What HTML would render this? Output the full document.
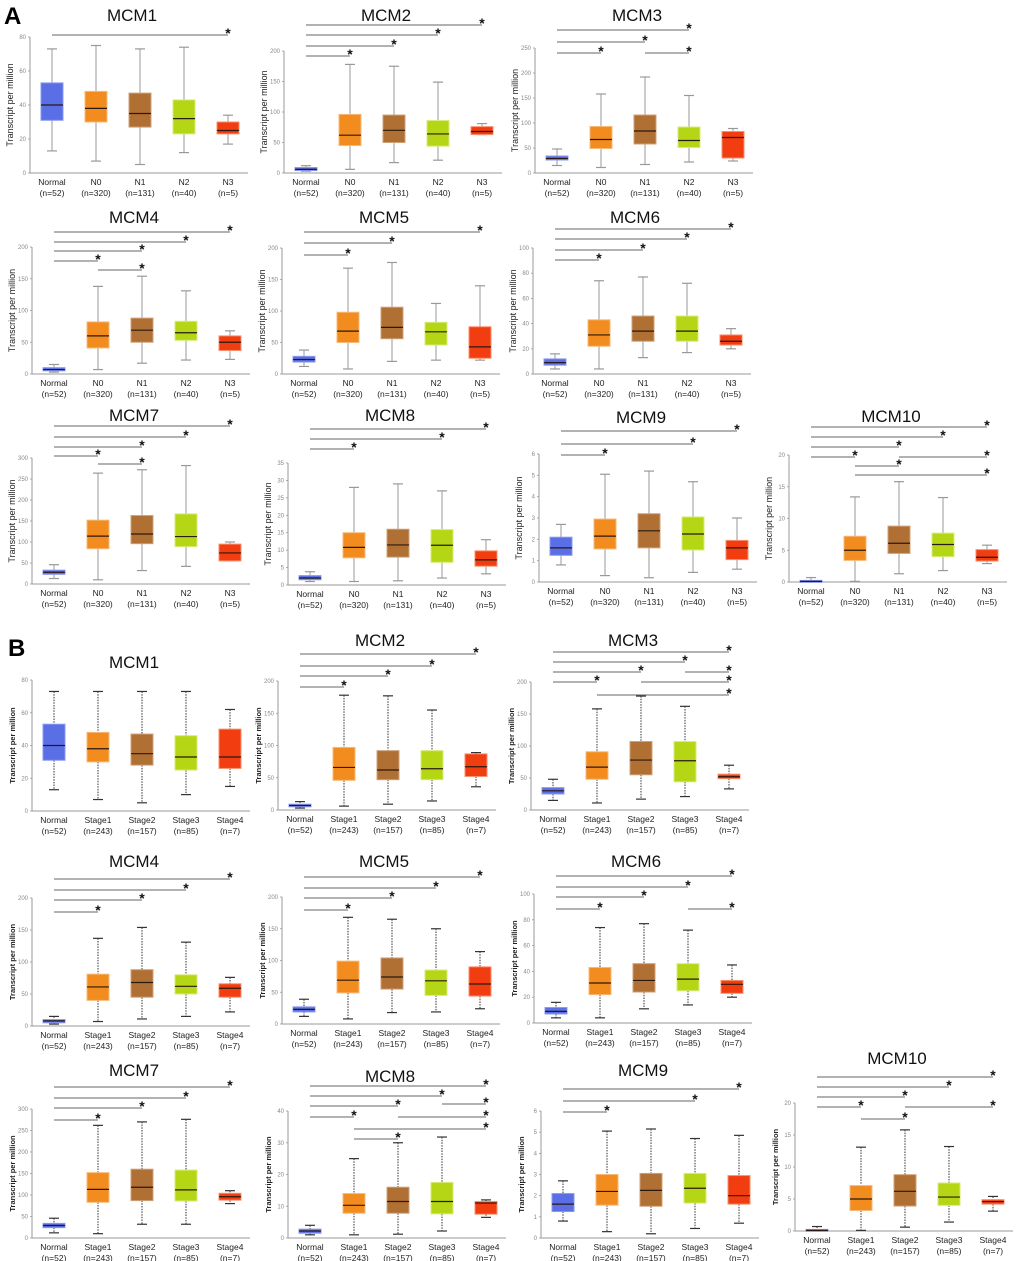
<!DOCTYPE html>
<html><head><meta charset="utf-8">
<style>
html,body{margin:0;padding:0;background:#fff;}
svg{display:block;font-family:"Liberation Sans",sans-serif;}
</style></head>
<body>
<svg id="fig" width="1020" height="1261" viewBox="0 0 1020 1261" xmlns="http://www.w3.org/2000/svg">
<text x="4" y="24" font-size="24" font-weight="bold">A</text>
<text x="8" y="656" font-size="24" font-weight="bold">B</text>
</svg>
<script>
// ---- data: [min, q1, median, q3, max] per group ----
const catsA = ["Normal","N0","N1","N2","N3"];
const nA = ["(n=52)","(n=320)","(n=131)","(n=40)","(n=5)"];
const catsB = ["Normal","Stage1","Stage2","Stage3","Stage4"];
const nB = ["(n=52)","(n=243)","(n=157)","(n=85)","(n=7)"];

const A_MCM1 = [[13,31,40,53,73],[7,30,38,48,75],[5,27,35,47,73],[12,23,32,43,74],[17,23,25,30,34]];
const A_MCM2 = [[3,4,6,9,12],[6,45,62,96,178],[17,50,70,95,175],[21,44,64,86,149],[63,63,68,76,81]];
const A_MCM3 = [[15,26,29,34,48],[11,49,67,93,158],[17,58,84,116,192],[22,51,65,92,155],[24,30,71,83,89]];
const A_MCM4 = [[3,5,7,10,15],[7,41,60,82,138],[17,50,69,88,154],[22,53,65,83,131],[23,37,50,60,68]];
const A_MCM5 = [[12,19,23,28,38],[8,50,68,98,168],[20,56,74,106,177],[22,46,67,82,112],[22,25,43,75,140]];
const A_MCM6 = [[4,7,9,12,16],[4,22,31,43,74],[13,26,34,46,77],[17,26,34,46,72],[20,23,26,31,36]];
const A_MCM7 = [[13,23,28,33,46],[10,84,114,152,264],[32,96,119,163,272],[42,89,113,167,282],[55,55,74,95,100]];
const A_MCM8 = [[1,1.5,2,2.7,3.8],[1,7.8,10.8,15,28],[1.2,8,11.5,16,29],[2,6.5,11.4,15.9,27],[3.2,5.4,7.2,9.8,13]];
const A_MCM9 = [[0.8,1.25,1.6,2.1,2.7],[0.3,1.55,2.15,2.95,5.05],[0.2,1.6,2.4,3.2,5.2],[0.45,1.5,2.25,3.05,4.7],[0.6,1.05,1.6,1.95,3.0]];
const A_MCM10 = [[0,0.05,0.1,0.25,0.7],[0.1,3.4,5,7.2,13.4],[1.3,4.5,6.1,8.8,15.8],[1.8,4,5.9,7.7,13.3],[2.9,3.3,3.9,5.1,5.8]];

const B_MCM1 = [[13,31,40,53,73],[7,30,38,48,73],[5,28,35,47,73],[10,25,33,46,73],[15,26,33,50,62]];
const B_MCM2 = [[3,5,7,9,13],[6,46,66,97,178],[9,47,62,92,177],[14,47,64,92,155],[36,52,67,87,89]];
const B_MCM3 = [[15,25,30,35,48],[11,48,67,91,158],[17,55,78,107,178],[21,44,77,107,162],[33,49,52,56,70]];
const B_MCM4 = [[3,5,8,10,15],[7,40,61,81,137],[11,45,68,88,154],[15,50,62,80,131],[22,45,59,66,76]];
const B_MCM5 = [[12,19,23,27,39],[8,49,69,99,168],[18,55,74,104,165],[19,45,68,85,150],[24,44,63,90,114]];
const B_MCM6 = [[4,7,9,12,16],[4,22,31,43,74],[11,24,33,46,77],[14,25,34,46,72],[20,23,30,33,45]];
const B_MCM7 = [[12,24,29,34,46],[10,83,113,152,262],[32,87,118,160,270],[32,86,112,158,276],[80,88,96,104,110]];
const B_MCM8 = [[1,1.5,2.2,2.8,4],[1,7.8,10.3,14,25],[1.2,7.8,11.5,16,30],[2.2,7.6,11.5,17.5,31.8],[6.5,7.5,11,11.5,12]];
const B_MCM9 = [[0.8,1.25,1.6,2.1,2.7],[0.3,1.55,2.2,3.0,5.05],[0.2,1.5,2.25,3.05,5.15],[0.45,1.65,2.35,3.05,4.7],[0.7,1.6,2.0,2.95,4.85]];
const B_MCM10 = [[0,0.05,0.1,0.25,0.7],[0.1,3.2,5,7.1,13.1],[0.6,3.9,6.2,8.8,15.8],[1.4,4,5.3,7.5,13.2],[3.1,4.2,4.6,4.9,5.4]];

// significance brackets: [fromGroup, toGroup]
const sigA_MCM1=[[0,4]], sigA_MCM2=[[0,4],[0,3],[0,2],[0,1]], sigA_MCM3=[[0,3],[0,2],[0,1],[2,3]];
const sigA_MCM4=[[0,4],[0,3],[0,2],[0,1],[1,2]], sigA_MCM5=[[0,4],[0,2],[0,1]], sigA_MCM6=[[0,4],[0,3],[0,2],[0,1]];
const sigA_MCM7=[[0,4],[0,3],[0,2],[0,1],[1,2]], sigA_MCM8=[[0,4],[0,3],[0,1]], sigA_MCM9=[[0,4],[0,3],[0,1]];
const sigA_MCM10=[[0,4],[0,3],[0,2],[0,1],[2,4],[1,2],[1,4]];
const sigB_MCM1=[], sigB_MCM2=[[0,4],[0,3],[0,2],[0,1]], sigB_MCM3=[[0,4],[0,3],[0,2],[3,4],[0,1],[2,4],[1,4]];
const sigB_MCM4=[[0,4],[0,3],[0,2],[0,1]], sigB_MCM5=[[0,4],[0,3],[0,2],[0,1]], sigB_MCM6=[[0,4],[0,3],[0,2],[0,1],[3,4]];
const sigB_MCM7=[[0,4],[0,3],[0,2],[0,1]], sigB_MCM8=[[0,4],[0,3],[0,2],[3,4],[0,1],[2,4],[1,4],[1,2]];
const sigB_MCM9=[[0,4],[0,3],[0,1]], sigB_MCM10=[[0,4],[0,3],[0,2],[0,1],[2,4],[1,2]];

// ---- layout (positions, not data) ----
const layout = [
 {t:"MCM1",d:A_MCM1,s:sigA_MCM1,sy:[35],b:0,x:52,y0:173,yt:37,max:80,step:20,ty:15},
 {t:"MCM2",d:A_MCM2,s:sigA_MCM2,sy:[25,35,46,56],b:0,x:306,y0:173,yt:51,max:200,step:50,ty:15},
 {t:"MCM3",d:A_MCM3,s:sigA_MCM3,sy:[30,42,53,53],b:0,x:557,y0:173,yt:48,max:250,step:50,ty:15},
 {t:"MCM4",d:A_MCM4,s:sigA_MCM4,sy:[232,242,251,261,270],b:0,x:54,y0:374,yt:247,max:200,step:50,ty:217},
 {t:"MCM5",d:A_MCM5,s:sigA_MCM5,sy:[232,243,255],b:0,x:304,y0:374,yt:248,max:200,step:50,ty:217},
 {t:"MCM6",d:A_MCM6,s:sigA_MCM6,sy:[229,239,250,260],b:0,x:555,y0:374,yt:248,max:100,step:20,ty:217},
 {t:"MCM7",d:A_MCM7,s:sigA_MCM7,sy:[426,437,447,456,464],b:0,x:54,y0:584,yt:458,max:300,step:50,ty:415},
 {t:"MCM8",d:A_MCM8,s:sigA_MCM8,sy:[429,439,449],b:0,x:310,y0:585,yt:463,max:35,step:5,ty:415},
 {t:"MCM9",d:A_MCM9,s:sigA_MCM9,sy:[431,444,455],b:0,x:561,y0:582,yt:454,max:6,step:1,ty:417},
 {t:"MCM10",d:A_MCM10,s:sigA_MCM10,sy:[427,437,447,457,457,466,475],b:0,x:811,y0:582,yt:455,max:20,step:5,ty:416},
 {t:"MCM1",d:B_MCM1,s:sigB_MCM1,sy:[],b:1,x:54,y0:811,yt:680,max:80,step:20,ty:662},
 {t:"MCM2",d:B_MCM2,s:sigB_MCM2,sy:[654,666,676,687],b:1,x:300,y0:810,yt:681,max:200,step:50,ty:640},
 {t:"MCM3",d:B_MCM3,s:sigB_MCM3,sy:[652,662,672,672,682,682,695],b:1,x:553,y0:810,yt:682,max:200,step:50,ty:640},
 {t:"MCM4",d:B_MCM4,s:sigB_MCM4,sy:[879,890,900,912],b:1,x:54,y0:1026,yt:898,max:200,step:50,ty:861},
 {t:"MCM5",d:B_MCM5,s:sigB_MCM5,sy:[877,888,898,910],b:1,x:304,y0:1024,yt:897,max:200,step:50,ty:861},
 {t:"MCM6",d:B_MCM6,s:sigB_MCM6,sy:[876,887,897,909,909],b:1,x:556,y0:1023,yt:894,max:100,step:20,ty:861},
 {t:"MCM7",d:B_MCM7,s:sigB_MCM7,sy:[1087,1098,1108,1120],b:1,x:54,y0:1238,yt:1109,max:300,step:50,ty:1070},
 {t:"MCM8",d:B_MCM8,s:sigB_MCM8,sy:[1086,1096,1106,1104,1117,1117,1129,1139],b:1,x:310,y0:1238,yt:1111,max:40,step:10,ty:1076},
 {t:"MCM9",d:B_MCM9,s:sigB_MCM9,sy:[1089,1101,1112],b:1,x:563,y0:1238,yt:1111,max:6,step:1,ty:1070},
 {t:"MCM10",d:B_MCM10,s:sigB_MCM10,sy:[1077,1087,1097,1107,1107,1119],b:1,x:817,y0:1231,yt:1103,max:20,step:5,ty:1058}
];
const fills=["#5a6ee6","#f28c1e","#b06f33","#b5d614","#f23d10"];
const strokes=["#8a98f0","#f7b878","#cfa07a","#d6ec7a","#f7906e"];

const NS="http://www.w3.org/2000/svg";
const svg=document.getElementById("fig");
function mk(tag,attrs,parent){const e=document.createElementNS(NS,tag);for(const k in attrs)e.setAttribute(k,attrs[k]);(parent||svg).appendChild(e);return e;}

layout.forEach((p,pi)=>{
  const g=mk("g",{});
  
  
  const SP=44;
  const sx=i=>p.x+i*SP;
  const sy=v=>p.y0-(v/p.max)*(p.y0-p.yt);
  const ax=p.x-22;
  const cats=p.b?catsB:catsA, ns=p.b?nB:nA;
  const tt=mk("text",{x:sx(2)-8,y:p.ty+6,"font-size":17,"text-anchor":"middle",fill:"#111"},g);
  tt.textContent=p.t;
  
  
  const ya=mk("line",{x1:ax,y1:p.yt,x2:ax,y2:p.y0,stroke:"#999","stroke-width":1},g);
  
  
  const xa=mk("line",{x1:ax,y1:p.y0,x2:sx(4)+20,y2:p.y0,stroke:"#999","stroke-width":1},g);
  
  
  for(let v=0;v<=p.max+1e-9;v+=p.step){
    mk("line",{x1:ax-2,y1:sy(v),x2:ax,y2:sy(v),stroke:"#999","stroke-width":0.8},g);
    const tl=mk("text",{x:ax-4,y:sy(v)+2,"font-size":6,"text-anchor":"end",fill:"#888"},g);
    tl.textContent=Math.round(v*10)/10;
    
    
  }
  const yl=mk("text",{x:0,y:0,"font-size":p.b?7.5:9,"font-weight":p.b?"bold":"normal","text-anchor":"middle",fill:"#222",transform:`translate(${ax-17},${(p.y0+p.yt)/2}) rotate(-90)`},g);
  yl.textContent=p.b?"Transcript per million":"Transcript  per million";
  
  
  p.d.forEach((st,i)=>{
    const cx=sx(i);
    const [mn,q1,md,q3,mx]=st;
    const wcol=p.b?"#333":"#999";
    const dash=p.b?"1.5,1.2":"none";
    mk("line",{x1:cx,y1:sy(mx),x2:cx,y2:sy(q3),stroke:wcol,"stroke-width":1,"stroke-dasharray":dash},g);
    mk("line",{x1:cx,y1:sy(q1),x2:cx,y2:sy(mn),stroke:wcol,"stroke-width":1,"stroke-dasharray":dash},g);
    mk("line",{x1:cx-5,y1:sy(mx),x2:cx+5,y2:sy(mx),stroke:wcol,"stroke-width":1.2},g);
    mk("line",{x1:cx-5,y1:sy(mn),x2:cx+5,y2:sy(mn),stroke:wcol,"stroke-width":1.2},g);
    const r=mk("rect",{x:cx-11,y:sy(q3),width:22,height:Math.max(2,sy(q1)-sy(q3)),fill:fills[i],stroke:strokes[i],"stroke-width":1},g);
    
    
    mk("line",{x1:cx-11,y1:sy(md),x2:cx+11,y2:sy(md),stroke:"#2a1a10","stroke-width":1.2},g);
    const cl=mk("text",{x:cx,y:p.y0+12,"font-size":8.5,"text-anchor":"middle",fill:"#222"},g);
    cl.textContent=cats[i];
    
    
    const nl=mk("text",{x:cx,y:p.y0+23,"font-size":8.5,"text-anchor":"middle",fill:"#222"},g);
    nl.textContent=ns[i];
    
    
  });
  p.s.forEach((s,k)=>{
    const y=p.sy[k];
    const ln=mk("line",{x1:sx(s[0]),y1:y,x2:sx(s[1]),y2:y,stroke:"#666","stroke-width":1},g);
    
    
    const st=mk("text",{x:sx(s[1]),y:y+3,"font-size":14,"font-weight":"bold","text-anchor":"middle",fill:"#111"},g);
    st.textContent="*";
    
    
  });
});
</script>
</body></html>
